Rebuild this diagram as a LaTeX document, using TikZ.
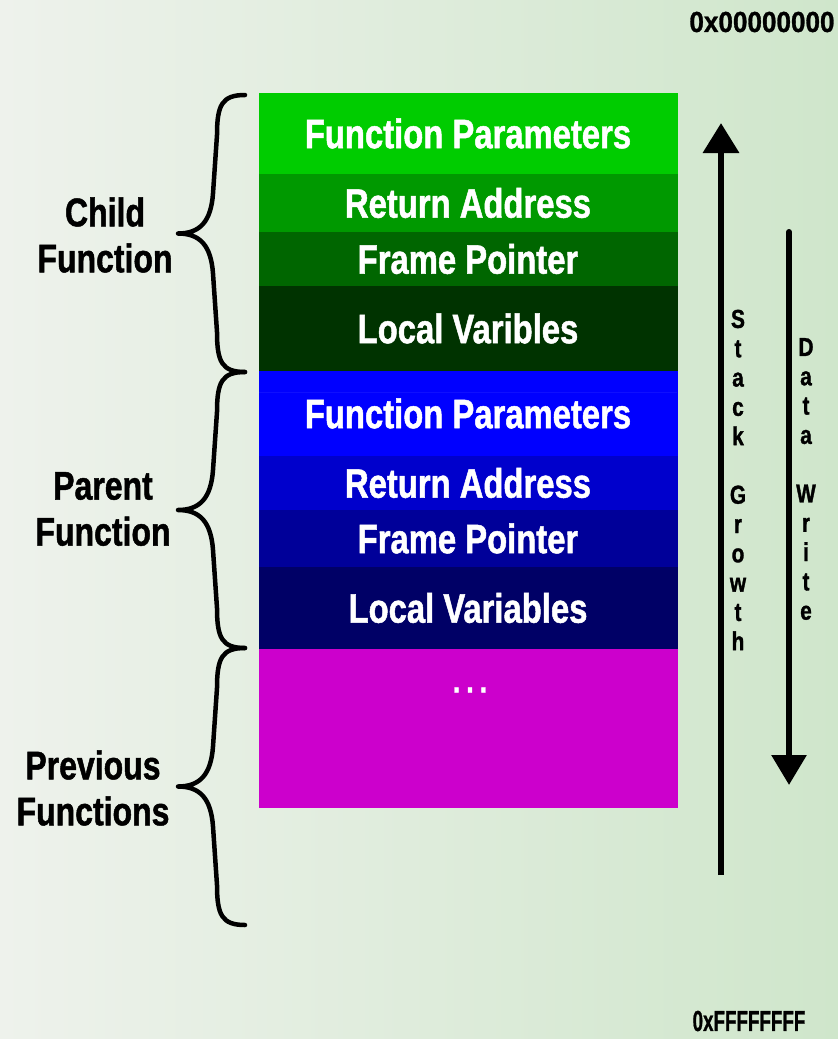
\documentclass[tikz,border=0pt]{standalone}
\usepackage{fontspec}
\usepackage{graphicx}
\newfontfamily\imp[FakeStretch=0.8,FakeBold=1.2]{Liberation Sans}
\newfontfamily\addrfont[FakeStretch=0.9,FakeBold=1]{Liberation Sans}
\usetikzlibrary{arrows.meta}

% layer colours of the stack
\definecolor{childA}{HTML}{00CC00}
\definecolor{childB}{HTML}{009900}
\definecolor{childC}{HTML}{006600}
\definecolor{childD}{HTML}{003300}
\definecolor{parA}{HTML}{0000FF}
\definecolor{parB}{HTML}{0000CC}
\definecolor{parC}{HTML}{000099}
\definecolor{parD}{HTML}{000066}
\definecolor{prevcol}{HTML}{CC00CC}
\definecolor{bgleft}{HTML}{EEF2EC}
\definecolor{bgright}{HTML}{CFE6CB}

\begin{document}
\begin{tikzpicture}[x=1pt,y=-1pt,
  layer/.style={rectangle, inner sep=0pt, outer sep=0pt, minimum width=418pt,
    anchor=north west, fill=#1, draw=#1, line width=0.8pt,
    text=white, font=\imp\bfseries\fontsize{41}{44}\selectfont},
  side/.style={align=center, inner sep=0pt, text=black,
    font=\imp\bfseries\fontsize{40}{46}\selectfont},
  vlet/.style={align=center, inner sep=0pt, text=black,
    font=\imp\bfseries\fontsize{26}{29.3}\selectfont},
  addr/.style={inner sep=0pt, text=black, font=\addrfont\bfseries\fontsize{29}{30}\selectfont},
  bigarrow/.style={line width=6.5pt, draw=black},
  curly/.style={line width=4.5pt, draw=black, line cap=round, line join=round},
]
\useasboundingbox (0,0) rectangle (838,1039);
\shade[left color=bgleft, right color=bgright] (0,0) rectangle (838,1039);

% child function frame
\node[layer=childA, minimum height=81pt] (cfp) at (259,93) {Function Parameters};
\node[layer=childB, minimum height=58pt] (cra) at (cfp.south west) {Return Address};
\node[layer=childC, minimum height=54pt] (cfr) at (cra.south west) {Frame Pointer};
\node[layer=childD, minimum height=85pt] (clv) at (cfr.south west) {Local Varibles};
% parent function frame
\node[layer=parA, minimum height=85pt] (pfp) at (clv.south west) {Function Parameters};
\node[layer=parB, minimum height=54pt] (pra) at (pfp.south west) {Return Address};
\node[layer=parC, minimum height=57pt] (pfr) at (pra.south west) {Frame Pointer};
\node[layer=parD, minimum height=82pt] (plv) at (pfr.south west) {Local Variables};
% older frames
\node[layer=prevcol, minimum height=158pt] (prev) at (plv.south west) {};
\node[text=white, font=\imp\bfseries\fontsize{34}{40}\selectfont, inner sep=0pt]
  (dots) at (470,690) {.\hspace{6pt}.\hspace{6pt}.};
\draw[draw=parA!94!white, line width=0.6pt] ([yshift=-21pt]pfp.north west) -- ([yshift=-21pt]pfp.north east);

% frame labels
\node[side] (lchild) at (105,235) {Child\\Function};
\node[side] (lparent) at (103,509) {Parent\\Function};
\node[side] (lprev) at (93,788) {Previous\\Functions};

% curly braces
\foreach \name/\top/\bot in {bchild/95/372, bparent/372/648, bprev/648/925}{
  \pgfmathsetmacro{\mid}{(\top+\bot)/2}
  \coordinate (\name-top) at (245,\top);
  \coordinate (\name-tip) at (178,\mid);
  \coordinate (\name-bot) at (245,\bot);
  \draw[curly] (\name-top)
    .. controls (222,\top) and (217,\top+10) .. (217,\top+40)
    -- (213,\mid-40)
    .. controls (211,\mid-12) and (200,\mid) .. (\name-tip)
    .. controls (200,\mid) and (211,\mid+12) .. (213,\mid+40)
    -- (217,\bot-40)
    .. controls (217,\bot-10) and (222,\bot) .. (\name-bot);
}

% direction arrows
\coordinate (sgfoot) at (721,875);
\coordinate (sghead) at (721,123);
\coordinate (dwfoot) at (789,232);
\coordinate (dwhead) at (789,785);
\draw[bigarrow, -{Triangle[width=35pt,length=30pt]}] (sgfoot) -- (sghead);
\draw[bigarrow, line width=6pt, line cap=round, -{Triangle[width=34pt,length=30pt]}] (dwfoot) -- (dwhead);
\node[vlet] (lstack) at (738,480) {S\\t\\a\\c\\k\\\mbox{}\\G\\r\\o\\w\\t\\h};
\node[vlet] (lwrite) at (806,479) {D\\a\\t\\a\\\mbox{}\\W\\r\\i\\t\\e};

% address range
\node[addr] (alow) at (762,22) {0x00000000};
\node[addr] (ahigh) at (749,1021) {\scalebox{0.72}[1]{0xFFFFFFFF}};
\end{tikzpicture}
\end{document}
